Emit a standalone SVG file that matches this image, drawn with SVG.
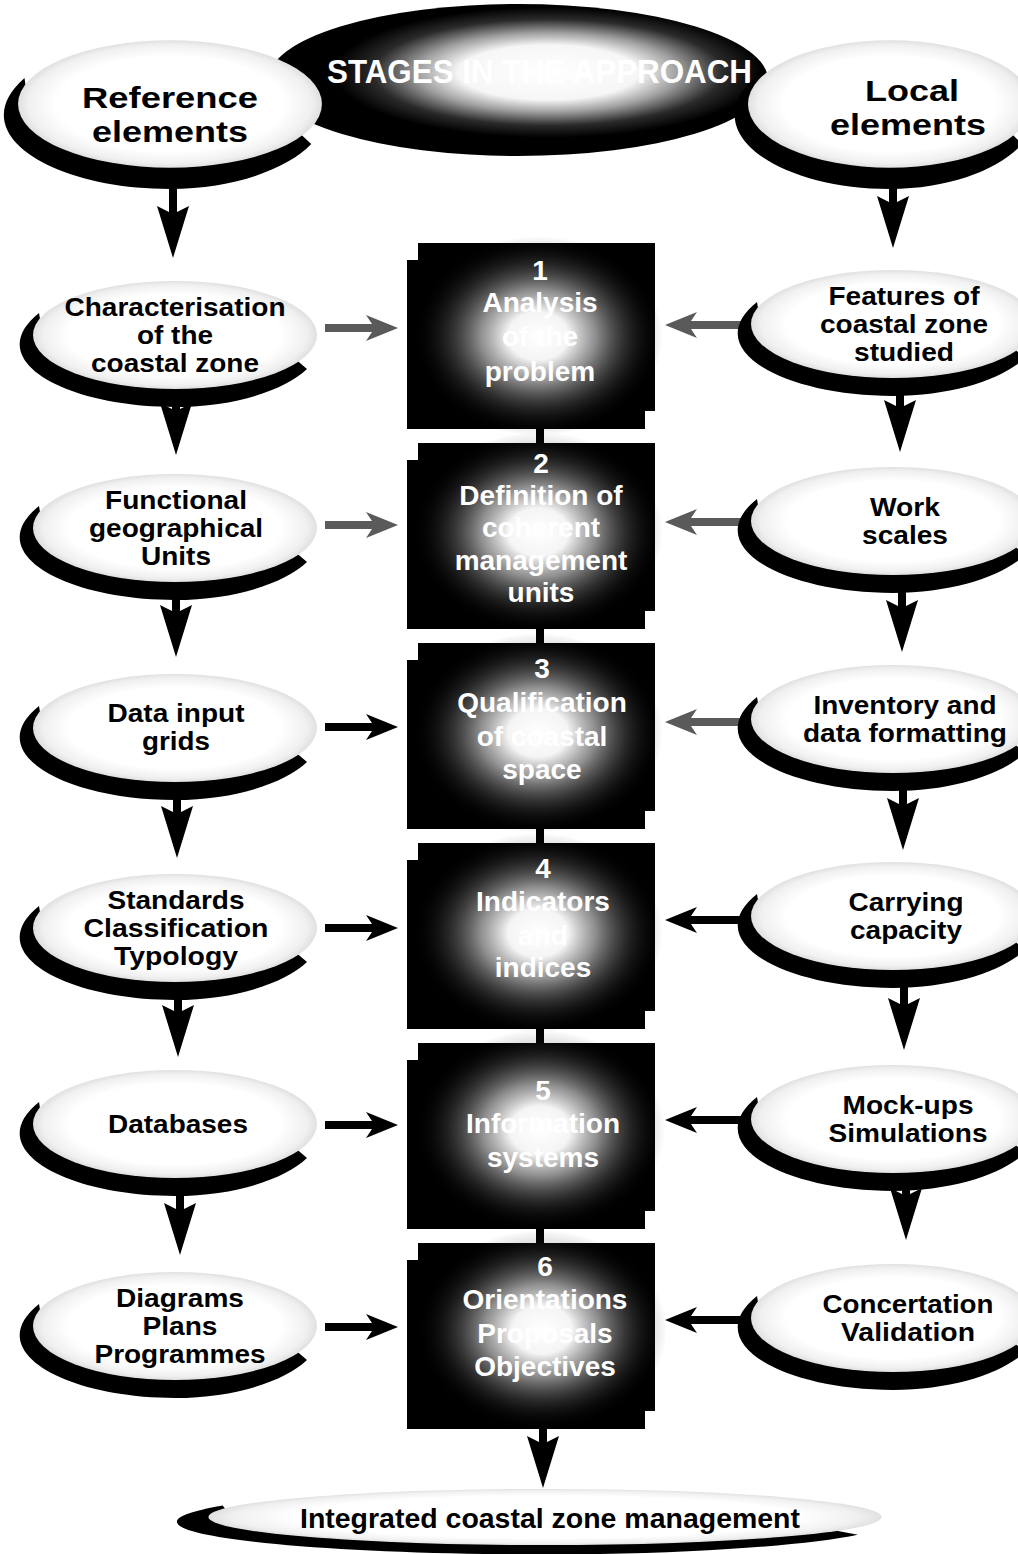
<svg xmlns="http://www.w3.org/2000/svg" xmlns:xlink="http://www.w3.org/1999/xlink" width="1018" height="1554" viewBox="0 0 1018 1554">
<style>
.lbl{font-family:"Liberation Sans",Arial,sans-serif;font-weight:bold;font-size:25px;text-anchor:middle;fill:#000}
.big{font-size:30px}
.bx{font-size:28px;fill:#fff}
.arr{fill:#000}
.arr-g{fill:#5a5a5a}
.box{fill:#000}
</style>
<defs>
<radialGradient id="bubbleFill" cx="0.5" cy="0.5" r="0.5">
<stop offset="0" stop-color="#ffffff"/>
<stop offset="0.75" stop-color="#ffffff"/>
<stop offset="0.93" stop-color="#f0f0f0"/>
<stop offset="1" stop-color="#e0e0e0"/>
</radialGradient>
<radialGradient id="titleGlow" cx="0.56" cy="0.45" r="0.5">
<stop offset="0" stop-color="#ffffff"/>
<stop offset="0.36" stop-color="#f6f6f6"/>
<stop offset="0.52" stop-color="#a0a0a0"/>
<stop offset="0.7" stop-color="#2a2a2a"/>
<stop offset="0.86" stop-color="#000000"/>
<stop offset="1" stop-color="#000000"/>
</radialGradient>
<radialGradient id="boxGlow" cx="0.5" cy="0.5" r="0.5">
<stop offset="0" stop-color="#ffffff" stop-opacity="1"/>
<stop offset="0.24" stop-color="#ffffff" stop-opacity="0.96"/>
<stop offset="0.46" stop-color="#cccccc" stop-opacity="0.7"/>
<stop offset="0.72" stop-color="#777777" stop-opacity="0.32"/>
<stop offset="1" stop-color="#000000" stop-opacity="0"/>
</radialGradient>
<g id="bubble">
<path d="M-136,-22 C-195,25 -110,72 0,72 C60,72 110,55 132,34 L118,22 Q0,62 -133,-4 Z" fill="#000"/>
<ellipse cx="0" cy="0" rx="142" ry="54" fill="url(#bubbleFill)"/>
</g>
</defs>
<rect width="1018" height="1554" fill="#fff"/>

<g id="title">
<ellipse cx="518" cy="80" rx="250" ry="76" fill="url(#titleGlow)"/>
<text class="lbl" x="327" y="83" style="font-size:34px;text-anchor:start;fill:#fff" textLength="425" lengthAdjust="spacingAndGlyphs">STAGES IN THE APPROACH</text>
</g>

<g id="connectors">
<rect x="536" y="425" width="8" height="820" fill="#000"/>
<path class="arr" d="M169,186 L177,186 L177,212 L189,206 L173,258 L157,206 L169,212 Z"/>
<path class="arr" d="M172,398 L180,398 L180,409 L192,403 L176,455 L160,403 L172,409 Z"/>
<path class="arr" d="M172,590 L180,590 L180,611 L192,605 L176,657 L160,605 L172,611 Z"/>
<path class="arr" d="M173,788 L181,788 L181,812 L193,806 L177,858 L161,806 L173,812 Z"/>
<path class="arr" d="M174,990 L182,990 L182,1011 L194,1005 L178,1057 L162,1005 L174,1011 Z"/>
<path class="arr" d="M176,1188 L184,1188 L184,1209 L196,1203 L180,1255 L164,1203 L176,1209 Z"/>
<path class="arr" d="M889,186 L897,186 L897,202 L909,196 L893,248 L877,196 L889,202 Z"/>
<path class="arr" d="M896,388 L904,388 L904,406 L916,400 L900,452 L884,400 L896,406 Z"/>
<path class="arr" d="M898,586 L906,586 L906,606 L918,600 L902,652 L886,600 L898,606 Z"/>
<path class="arr" d="M899,783 L907,783 L907,804 L919,798 L903,850 L887,798 L899,804 Z"/>
<path class="arr" d="M900,984 L908,984 L908,1004 L920,998 L904,1050 L888,998 L900,1004 Z"/>
<path class="arr" d="M902,1184 L910,1184 L910,1194 L922,1188 L906,1240 L890,1188 L902,1194 Z"/>
<path class="arr" d="M539,1425 L547,1425 L547,1442 L559,1436 L543,1488 L527,1436 L539,1442 Z"/>
<path class="arr-g" d="M325,324 L372,324 L366,315 L398,328 L366,341 L372,332 L325,332 Z"/>
<path class="arr-g" d="M325,521 L372,521 L366,512 L398,525 L366,538 L372,529 L325,529 Z"/>
<path class="arr" d="M325,723 L372,723 L366,714 L398,727 L366,740 L372,731 L325,731 Z"/>
<path class="arr" d="M325,924 L372,924 L366,915 L398,928 L366,941 L372,932 L325,932 Z"/>
<path class="arr" d="M325,1121 L372,1121 L366,1112 L398,1125 L366,1138 L372,1129 L325,1129 Z"/>
<path class="arr" d="M325,1323 L372,1323 L366,1314 L398,1327 L366,1340 L372,1331 L325,1331 Z"/>
<path class="arr-g" d="M755,321 L691,321 L697,312 L665,325 L697,338 L691,329 L755,329 Z"/>
<path class="arr-g" d="M755,518 L691,518 L697,509 L665,522 L697,535 L691,526 L755,526 Z"/>
<path class="arr-g" d="M755,718 L691,718 L697,709 L665,722 L697,735 L691,726 L755,726 Z"/>
<path class="arr" d="M755,916 L691,916 L697,907 L665,920 L697,933 L691,924 L755,924 Z"/>
<path class="arr" d="M755,1116 L691,1116 L697,1107 L665,1120 L697,1133 L691,1124 L755,1124 Z"/>
<path class="arr" d="M755,1316 L691,1316 L697,1307 L665,1320 L697,1333 L691,1324 L755,1324 Z"/>
</g>

<g id="ref-elements">
<use xlink:href="#bubble" href="#bubble" transform="translate(170,104) scale(1.07,1.18)"/>
<text class="lbl big" x="170" y="108" textLength="176" lengthAdjust="spacingAndGlyphs">Reference</text>
<text class="lbl big" x="170" y="142" textLength="156" lengthAdjust="spacingAndGlyphs">elements</text>
</g>
<g id="local-elements">
<use xlink:href="#bubble" href="#bubble" transform="translate(890,104) scale(1,1.18)"/>
<text class="lbl big" x="912" y="101" textLength="94" lengthAdjust="spacingAndGlyphs">Local</text>
<text class="lbl big" x="908" y="135" textLength="156" lengthAdjust="spacingAndGlyphs">elements</text>
</g>

<g id="L1">
<use xlink:href="#bubble" href="#bubble" transform="translate(175,335)"/>
<text class="lbl" x="175" y="316" textLength="221" lengthAdjust="spacingAndGlyphs">Characterisation</text>
<text class="lbl" x="175" y="344" textLength="76" lengthAdjust="spacingAndGlyphs">of the</text>
<text class="lbl" x="175" y="372" textLength="168" lengthAdjust="spacingAndGlyphs">coastal zone</text>
</g>
<g id="L2">
<use xlink:href="#bubble" href="#bubble" transform="translate(175,528)"/>
<text class="lbl" x="176" y="509" textLength="142" lengthAdjust="spacingAndGlyphs">Functional</text>
<text class="lbl" x="176" y="537" textLength="174" lengthAdjust="spacingAndGlyphs">geographical</text>
<text class="lbl" x="176" y="565" textLength="70" lengthAdjust="spacingAndGlyphs">Units</text>
</g>
<g id="L3">
<use xlink:href="#bubble" href="#bubble" transform="translate(175,728)"/>
<text class="lbl" x="176" y="722" textLength="137" lengthAdjust="spacingAndGlyphs">Data input</text>
<text class="lbl" x="176" y="750" textLength="68" lengthAdjust="spacingAndGlyphs">grids</text>
</g>
<g id="L4">
<use xlink:href="#bubble" href="#bubble" transform="translate(175,928)"/>
<text class="lbl" x="176" y="909" textLength="137" lengthAdjust="spacingAndGlyphs">Standards</text>
<text class="lbl" x="176" y="937" textLength="185" lengthAdjust="spacingAndGlyphs">Classification</text>
<text class="lbl" x="176" y="965" textLength="124" lengthAdjust="spacingAndGlyphs">Typology</text>
</g>
<g id="L5">
<use xlink:href="#bubble" href="#bubble" transform="translate(175,1124)"/>
<text class="lbl" x="178" y="1133" textLength="140" lengthAdjust="spacingAndGlyphs">Databases</text>
</g>
<g id="L6">
<use xlink:href="#bubble" href="#bubble" transform="translate(175,1326)"/>
<text class="lbl" x="180" y="1307" textLength="128" lengthAdjust="spacingAndGlyphs">Diagrams</text>
<text class="lbl" x="180" y="1335" textLength="75" lengthAdjust="spacingAndGlyphs">Plans</text>
<text class="lbl" x="180" y="1363" textLength="171" lengthAdjust="spacingAndGlyphs">Programmes</text>
</g>

<g id="R1">
<use xlink:href="#bubble" href="#bubble" transform="translate(893,324)"/>
<text class="lbl" x="904" y="305" textLength="151" lengthAdjust="spacingAndGlyphs">Features of</text>
<text class="lbl" x="904" y="333" textLength="168" lengthAdjust="spacingAndGlyphs">coastal zone</text>
<text class="lbl" x="904" y="361" textLength="100" lengthAdjust="spacingAndGlyphs">studied</text>
</g>
<g id="R2">
<use xlink:href="#bubble" href="#bubble" transform="translate(893,521)"/>
<text class="lbl" x="905" y="516" textLength="70" lengthAdjust="spacingAndGlyphs">Work</text>
<text class="lbl" x="905" y="544" textLength="86" lengthAdjust="spacingAndGlyphs">scales</text>
</g>
<g id="R3">
<use xlink:href="#bubble" href="#bubble" transform="translate(893,719)"/>
<text class="lbl" x="905" y="714" textLength="183" lengthAdjust="spacingAndGlyphs">Inventory and</text>
<text class="lbl" x="905" y="742" textLength="204" lengthAdjust="spacingAndGlyphs">data formatting</text>
</g>
<g id="R4">
<use xlink:href="#bubble" href="#bubble" transform="translate(893,916)"/>
<text class="lbl" x="906" y="911" textLength="115" lengthAdjust="spacingAndGlyphs">Carrying</text>
<text class="lbl" x="906" y="939" textLength="112" lengthAdjust="spacingAndGlyphs">capacity</text>
</g>
<g id="R5">
<use xlink:href="#bubble" href="#bubble" transform="translate(893,1119)"/>
<text class="lbl" x="908" y="1114" textLength="131" lengthAdjust="spacingAndGlyphs">Mock-ups</text>
<text class="lbl" x="908" y="1142" textLength="159" lengthAdjust="spacingAndGlyphs">Simulations</text>
</g>
<g id="R6">
<use xlink:href="#bubble" href="#bubble" transform="translate(893,1318)"/>
<text class="lbl" x="908" y="1313" textLength="171" lengthAdjust="spacingAndGlyphs">Concertation</text>
<text class="lbl" x="908" y="1341" textLength="134" lengthAdjust="spacingAndGlyphs">Validation</text>
</g>

<g id="S1">
<path class="box" d="M418,243 H655 V411 H645 V429 H407 V260 H418 Z"/>
<ellipse cx="538" cy="336" rx="125" ry="100" fill="url(#boxGlow)"/>
<text class="lbl bx" x="540" y="280">1</text>
<text class="lbl bx" x="540" y="312">Analysis</text>
<text class="lbl bx" x="540" y="346">of the</text>
<text class="lbl bx" x="540" y="381">problem</text>
</g>
<g id="S2">
<path class="box" d="M418,443 H655 V611 H645 V629 H407 V460 H418 Z"/>
<ellipse cx="538" cy="532" rx="125" ry="100" fill="url(#boxGlow)"/>
<text class="lbl bx" x="541" y="473">2</text>
<text class="lbl bx" x="541" y="505">Definition of</text>
<text class="lbl bx" x="541" y="537">coherent</text>
<text class="lbl bx" x="541" y="570">management</text>
<text class="lbl bx" x="541" y="602">units</text>
</g>
<g id="S3">
<path class="box" d="M418,643 H655 V811 H645 V829 H407 V660 H418 Z"/>
<ellipse cx="538" cy="733" rx="125" ry="100" fill="url(#boxGlow)"/>
<text class="lbl bx" x="542" y="678">3</text>
<text class="lbl bx" x="542" y="712">Qualification</text>
<text class="lbl bx" x="542" y="746">of coastal</text>
<text class="lbl bx" x="542" y="779">space</text>
</g>
<g id="S4">
<path class="box" d="M418,843 H655 V1011 H645 V1029 H407 V860 H418 Z"/>
<ellipse cx="538" cy="933" rx="125" ry="100" fill="url(#boxGlow)"/>
<text class="lbl bx" x="543" y="878">4</text>
<text class="lbl bx" x="543" y="911">Indicators</text>
<text class="lbl bx" x="543" y="945">and</text>
<text class="lbl bx" x="543" y="977">indices</text>
</g>
<g id="S5">
<path class="box" d="M418,1043 H655 V1211 H645 V1229 H407 V1060 H418 Z"/>
<ellipse cx="540" cy="1130" rx="125" ry="100" fill="url(#boxGlow)"/>
<text class="lbl bx" x="543" y="1100">5</text>
<text class="lbl bx" x="543" y="1133">Information</text>
<text class="lbl bx" x="543" y="1167">systems</text>
</g>
<g id="S6">
<path class="box" d="M418,1243 H655 V1411 H645 V1429 H407 V1260 H418 Z"/>
<ellipse cx="542" cy="1330" rx="125" ry="100" fill="url(#boxGlow)"/>
<text class="lbl bx" x="545" y="1276">6</text>
<text class="lbl bx" x="545" y="1309">Orientations</text>
<text class="lbl bx" x="545" y="1343">Proposals</text>
<text class="lbl bx" x="545" y="1376">Objectives</text>
</g>

<g id="ICZM">
<use xlink:href="#bubble" href="#bubble" transform="translate(545,1517) scale(2.37,0.52)"/>
<text class="lbl" x="550" y="1528" style="font-size:28px" textLength="500" lengthAdjust="spacingAndGlyphs">Integrated coastal zone management</text>
</g>
</svg>
